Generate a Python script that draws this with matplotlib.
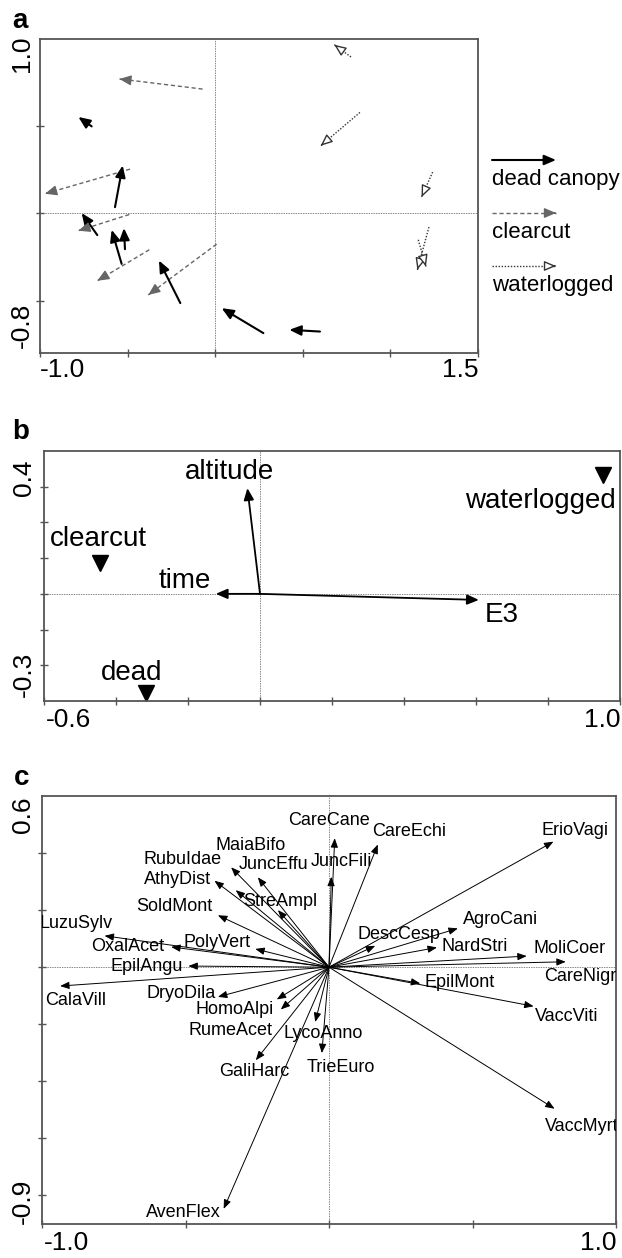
import matplotlib
matplotlib.use("Agg")
import matplotlib.pyplot as plt

plt.rcParams['font.family'] = ['Liberation Sans', 'DejaVu Sans']

# ---- panel a: site shifts (tail -> head) ----
dead_x0 = [-0.705, -0.572, -0.673, -0.534, -0.515, -0.199, 0.275, 0.598]
dead_y0 = [0.499, 0.036, -0.124, -0.289, -0.205, -0.514, -0.686, -0.677]
dead_x1 = [-0.781, -0.528, -0.762, -0.591, -0.521, -0.321, 0.037, 0.423]
dead_y1 = [0.553, 0.275, 0.002, -0.094, -0.084, -0.270, -0.543, -0.667]

clear_x0 = [-0.072, -0.486, -0.490, -0.376, 0.008]
clear_y0 = [0.713, 0.254, -0.006, -0.208, -0.176]
clear_x1 = [-0.547, -0.971, -0.781, -0.673, -0.382]
clear_y1 = [0.771, 0.113, -0.099, -0.386, -0.467]

water_x0 = [0.775, 0.826, 1.241, 1.220, 1.159]
water_y0 = [0.897, 0.579, 0.237, -0.078, -0.151]
water_x1 = [0.680, 0.602, 1.178, 1.154, 1.203]
water_y1 = [0.967, 0.388, 0.094, -0.323, -0.304]

legend_names = ['dead canopy', 'clearcut', 'waterlogged']

# ---- panel b: environmental variables and treatment centroids ----
env_names = ['altitude', 'time', 'E3']
env_x = [-0.035, -0.123, 0.608]
env_y = [0.296, 0.0, -0.017]
env_lx = [-0.084, -0.209, 0.672]
env_ly = [0.342, 0.037, -0.059]

trt_names = ['waterlogged', 'clearcut', 'dead']
trt_x = [0.952, -0.445, -0.317]
trt_y = [0.333, 0.086, -0.278]
trt_lx = [0.780, -0.450, -0.356]
trt_ly = [0.260, 0.154, -0.222]

# ---- panel c: species ----
sp_names = ['LuzuSylv', 'OxalAcet', 'PolyVert', 'EpilAngu', 'CalaVill', 'SoldMont',
            'AthyDist', 'RubuIdae', 'MaiaBifo', 'JuncEffu', 'StreAmpl', 'JuncFili',
            'CareCane', 'CareEchi', 'ErioVagi', 'AgroCani', 'DescCesp', 'NardStri',
            'MoliCoer', 'CareNigr', 'EpilMont', 'VaccViti', 'VaccMyrt', 'DryoDila',
            'HomoAlpi', 'RumeAcet', 'GaliHarc', 'LycoAnno', 'TrieEuro', 'AvenFlex']
sp_x = [-0.782, -0.550, -0.257, -0.490, -0.937, -0.387,
        -0.399, -0.325, -0.341, -0.248, -0.178, 0.008,
        0.020, 0.170, 0.782, 0.449, 0.161, 0.376,
        0.689, 0.825, 0.318, 0.713, 0.786, -0.387,
        -0.168, -0.182, -0.255, -0.048, -0.025, -0.367]
sp_y = [0.110, 0.071, 0.064, 0.004, -0.066, 0.182,
        0.303, 0.270, 0.350, 0.315, 0.200, 0.317,
        0.452, 0.430, 0.440, 0.136, 0.075, 0.069,
        0.039, 0.019, -0.057, -0.137, -0.496, -0.104,
        -0.148, -0.113, -0.326, -0.192, -0.301, -0.847]
sp_lx = [-0.881, -0.703, -0.389, -0.635, -0.882, -0.539,
         -0.528, -0.509, -0.272, -0.192, -0.170, 0.042,
         0.000, 0.278, 0.858, 0.599, 0.245, 0.509,
         0.837, 0.875, 0.454, 0.829, 0.882, -0.516,
         -0.330, -0.344, -0.262, -0.021, 0.042, -0.509]
sp_ly = [0.154, 0.071, 0.085, 0.001, -0.118, 0.214,
         0.308, 0.378, 0.425, 0.361, 0.229, 0.369,
         0.515, 0.475, 0.478, 0.167, 0.116, 0.074,
         0.066, -0.034, -0.052, -0.172, -0.560, -0.092,
         -0.149, -0.221, -0.367, -0.232, -0.352, -0.859]

W, H = 622, 1258
SPINE = '#555555'


def axes_px(fig, left, top, right, bottom):
    return fig.add_axes([left / W, 1 - bottom / H, (right - left) / W, (bottom - top) / H])


def frame(ax, xlim, ylim, xt, yt):
    ax.set_xlim(xlim)
    ax.set_ylim(ylim)
    ax.set_xticks(xt)
    ax.set_yticks(yt)
    ax.tick_params(direction='inout', length=6, width=1, color=SPINE,
                   labelbottom=False, labelleft=False)
    for s in ax.spines.values():
        s.set_color(SPINE)
        s.set_linewidth(1.3)
    ax.axhline(0, color='#888888', lw=0.7, ls=(0, (1.5, 1)), zorder=0)
    ax.axvline(0, color='#888888', lw=0.7, ls=(0, (1.5, 1)), zorder=0)


def arrow(ax, x0, y0, x1, y1, ec='black', fc=None, lw=1.0, ls='-',
          hl=0.6, hw=0.25, ms=10):
    if ls != '-':
        ax.plot([x0, x1], [y0, y1], color=ec, lw=lw, ls=ls)
        x0, y0 = x1 - (x1 - x0) * 0.02, y1 - (y1 - y0) * 0.02
    ax.annotate('', xy=(x1, y1), xytext=(x0, y0),
                arrowprops=dict(arrowstyle='-|>,head_length=%g,head_width=%g' % (hl, hw),
                                ec=ec, fc=fc or ec, lw=lw, shrinkA=0, shrinkB=0,
                                mutation_scale=ms))


fig = plt.figure(figsize=(W / 100, H / 100), dpi=100)

# panel a
ax = axes_px(fig, 40, 39, 478, 353)
frame(ax, (-1.0, 1.5), (-0.8, 1.0), [-1.0, -0.5, 0, 0.5, 1.0, 1.5], [-0.5, 0, 0.5])
for i in range(len(dead_x0)):
    arrow(ax, dead_x0[i], dead_y0[i], dead_x1[i], dead_y1[i], lw=1.5, hl=0.7, hw=0.3)
for i in range(len(clear_x0)):
    arrow(ax, clear_x0[i], clear_y0[i], clear_x1[i], clear_y1[i], ec='#666666',
          lw=1.0, ls=(0, (3, 2)), hl=0.7, hw=0.3)
for i in range(len(water_x0)):
    arrow(ax, water_x0[i], water_y0[i], water_x1[i], water_y1[i], ec='#333333', fc='white',
          lw=1.0, ls=(0, (1, 1.2)), hl=0.7, hw=0.3)

# panel b
bx = axes_px(fig, 44, 451, 620, 701)
frame(bx, (-0.6, 1.0), (-0.3, 0.4), [-0.6 + 0.2 * k for k in range(9)],
      [-0.2, -0.1, 0, 0.1, 0.2, 0.3])
for i in range(len(env_names)):
    arrow(bx, 0, 0, env_x[i], env_y[i], lw=1.3, hl=0.7, hw=0.3)
    bx.text(env_lx[i], env_ly[i], env_names[i], fontsize=20, ha='center', va='center')
bx.plot(trt_x, trt_y, 'v', color='black', ms=11, clip_on=False)
for i in range(len(trt_names)):
    bx.text(trt_lx[i], trt_ly[i], trt_names[i], fontsize=20, ha='center', va='center')

# panel c
cx = axes_px(fig, 42, 796, 616, 1224)
frame(cx, (-1.0, 1.0), (-0.9, 0.6), [-1.0, -0.5, 0, 0.5, 1.0],
      [-0.8, -0.6, -0.4, -0.2, 0, 0.2, 0.4])
for i in range(len(sp_names)):
    arrow(cx, 0, 0, sp_x[i], sp_y[i], lw=0.7, hl=0.55, hw=0.22)
    cx.text(sp_lx[i], sp_ly[i], sp_names[i], fontsize=13, ha='center', va='center',
            clip_on=True)

# overlay for tick labels, panel letters and legend (pixel coordinates)
ov = fig.add_axes([0, 0, 1, 1])
ov.set_xlim(0, W)
ov.set_ylim(H, 0)
ov.axis('off')

TK = 19
for s, x, y in [('a', 20, 21), ('b', 21, 432), ('c', 22, 778)]:
    ov.text(x, y, s, fontsize=20, fontweight='bold', ha='center', va='center')

# panel a tick labels
ov.text(22, 54, '1.0', fontsize=TK, rotation=90, ha='center', va='center')
ov.text(22, 325, '-0.8', fontsize=TK, rotation=90, ha='center', va='center')
ov.text(40, 370, '-1.0', fontsize=TK, ha='left', va='center')
ov.text(479, 370, '1.5', fontsize=TK, ha='right', va='center')
# panel b tick labels
ov.text(24, 478, '0.4', fontsize=TK, rotation=90, ha='center', va='center')
ov.text(24, 674, '-0.3', fontsize=TK, rotation=90, ha='center', va='center')
ov.text(46, 720, '-0.6', fontsize=TK, ha='left', va='center')
ov.text(621, 720, '1.0', fontsize=TK, ha='right', va='center')
# panel c tick labels
ov.text(23, 815, '0.6', fontsize=TK, rotation=90, ha='center', va='center')
ov.text(23, 1201, '-0.9', fontsize=TK, rotation=90, ha='center', va='center')
ov.text(44, 1243, '-1.0', fontsize=TK, ha='left', va='center')
ov.text(617, 1243, '1.0', fontsize=TK, ha='right', va='center')

# legend for panel a
leg_y = [160, 213, 266]
styles = [dict(ec='black', lw=1.5), dict(ec='#666666', lw=1.0, ls=(0, (3, 2))),
          dict(ec='#333333', fc='white', lw=1.0, ls=(0, (1, 1.2)))]
for i in range(3):
    arrow(ov, 492, leg_y[i], 556, leg_y[i], hl=0.7, hw=0.3, **styles[i])
    ov.text(492, leg_y[i] + 19, legend_names[i], fontsize=16, ha='left', va='center')

fig.savefig('out.png', dpi=100)
